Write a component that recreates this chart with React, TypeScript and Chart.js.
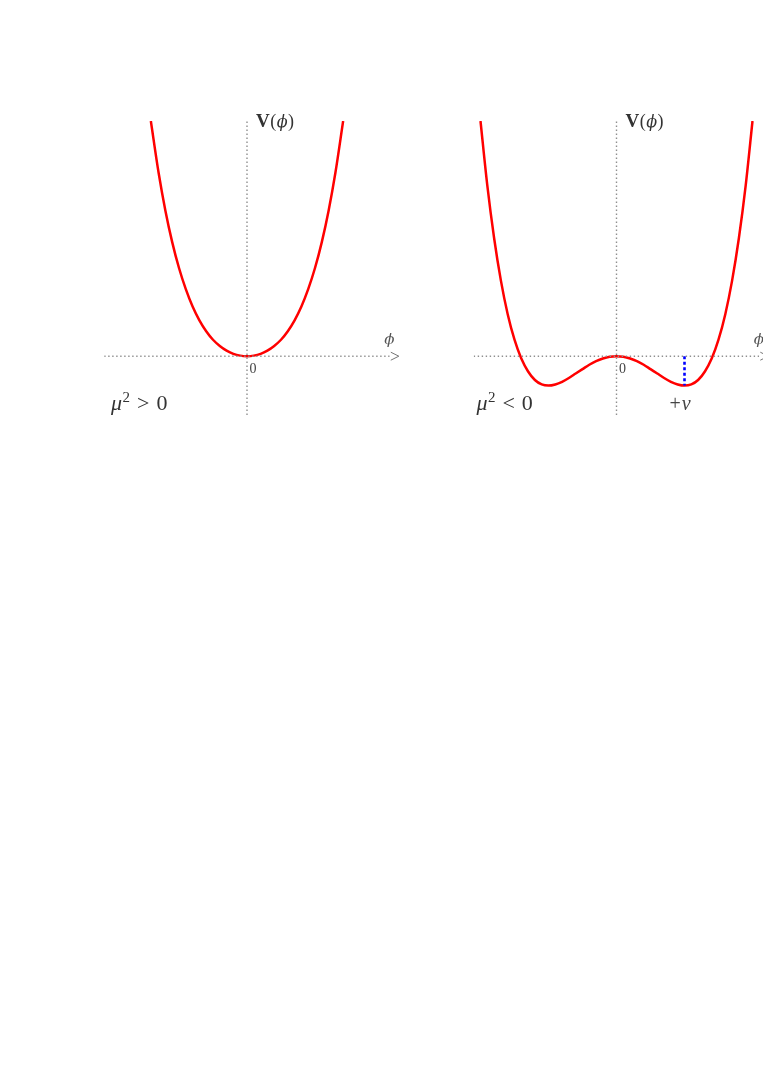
import React, { useEffect, useRef } from "react";
import { Chart, registerables } from "chart.js";

Chart.register(...registerables);

// φ samples and potential values V(φ)
const PHI_LEFT = [-1.414, -1.3, -1.2, -1.1, -1.0, -0.9, -0.8, -0.7, -0.6, -0.5, -0.4, -0.3, -0.2, -0.1, 0,
  0.1, 0.2, 0.3, 0.4, 0.5, 0.6, 0.7, 0.8, 0.9, 1.0, 1.1, 1.2, 1.3, 1.414];
const V_LEFT = [8.0, 6.24, 4.95, 3.88, 3.0, 2.28, 1.69, 1.22, 0.85, 0.56, 0.35, 0.19, 0.08, 0.02, 0,
  0.02, 0.08, 0.19, 0.35, 0.56, 0.85, 1.22, 1.69, 2.28, 3.0, 3.88, 4.95, 6.24, 8.0];

const PHI_RIGHT = [-2.0, -1.9, -1.8, -1.7, -1.6, -1.5, -1.4, -1.3, -1.2, -1.1, -1.0, -0.9, -0.8, -0.7, -0.6,
  -0.5, -0.4, -0.3, -0.2, -0.1, 0, 0.1, 0.2, 0.3, 0.4, 0.5, 0.6, 0.7, 0.8, 0.9, 1.0, 1.1, 1.2, 1.3, 1.4,
  1.5, 1.6, 1.7, 1.8, 1.9, 2.0];
const V_RIGHT = [8.0, 5.81, 4.02, 2.57, 1.43, 0.56, -0.08, -0.52, -0.81, -0.96, -1.0, -0.96, -0.87, -0.74, -0.59,
  -0.44, -0.29, -0.17, -0.08, -0.02, 0, -0.02, -0.08, -0.17, -0.29, -0.44, -0.59, -0.74, -0.87, -0.96, -1.0,
  -0.96, -0.81, -0.52, -0.08, 0.56, 1.43, 2.57, 4.02, 5.81, 8.0];

// axes extents
const AXIS_PHI = [-2.1, 2.1];
const AXIS_V = [-2, 8];

// vacuum expectation value marker (φ = +v)
const VEV_PHI = [1, 1];
const VEV_V = [0, -1];

// text
const ORIGIN_LABEL = "0";
const PHI_SYMBOL = "ϕ";
const COND_LEFT = ["μ", "2", ">", "0"];
const COND_RIGHT = ["μ", "2", "<", "0"];
const VEV_LABEL = ["+", "v"];

const SERIF = '"Liberation Serif", "DejaVu Serif", serif';
const PHI_FONT = '"DejaVu Serif", serif';

function makeLabelsPlugin(cond: string[], condPhi: number, showVev: boolean) {
  return {
    id: "physLabels",
    afterDatasetsDraw(chart: any) {
      const ctx = chart.ctx as CanvasRenderingContext2D;
      const xs = chart.scales.x;
      const ys = chart.scales.y;
      const x0 = xs.getPixelForValue(0);
      const y0 = ys.getPixelForValue(0);
      const xEnd = xs.getPixelForValue(AXIS_PHI[1]);
      const yTop = ys.getPixelForValue(AXIS_V[1]);
      ctx.save();

      // V(φ)
      ctx.fillStyle = "#333";
      ctx.textAlign = "left";
      ctx.textBaseline = "alphabetic";
      let x = x0 + 9;
      const yb = yTop + 6;
      ctx.font = `bold 19px ${SERIF}`;
      ctx.fillText("V", x, yb);
      x += ctx.measureText("V").width + 0.5;
      ctx.font = `18px ${SERIF}`;
      ctx.fillText("(", x, yb);
      x += ctx.measureText("(").width + 0.5;
      ctx.font = `italic 16px ${PHI_FONT}`;
      ctx.fillText(PHI_SYMBOL, x, yb);
      x += ctx.measureText(PHI_SYMBOL).width + 0.5;
      ctx.font = `18px ${SERIF}`;
      ctx.fillText(")", x, yb);

      // φ axis label
      ctx.fillStyle = "#555";
      ctx.textAlign = "center";
      ctx.textBaseline = "middle";
      ctx.font = `italic 15px ${PHI_FONT}`;
      ctx.fillText(PHI_SYMBOL, xEnd - 0.5, y0 - 16);

      // arrow head
      ctx.strokeStyle = "#666";
      ctx.lineWidth = 0.9;
      ctx.beginPath();
      ctx.moveTo(xEnd + 1, y0 - 4);
      ctx.lineTo(xEnd + 9, y0);
      ctx.lineTo(xEnd + 1, y0 + 4);
      ctx.stroke();

      // origin label
      ctx.fillStyle = "#444";
      ctx.textAlign = "left";
      ctx.font = `14px ${SERIF}`;
      ctx.fillText(ORIGIN_LABEL, x0 + 2.5, y0 + 13);

      // condition μ² >/< 0
      ctx.fillStyle = "#333";
      ctx.textBaseline = "alphabetic";
      const cb = ys.getPixelForValue(-1.82);
      let cx = xs.getPixelForValue(condPhi);
      ctx.font = `italic 22px ${SERIF}`;
      ctx.fillText(cond[0], cx, cb);
      cx += ctx.measureText(cond[0]).width + 0.5;
      ctx.font = `15px ${SERIF}`;
      ctx.fillText(cond[1], cx, cb - 8);
      cx += ctx.measureText(cond[1]).width + 7;
      ctx.font = `22px ${SERIF}`;
      ctx.fillText(cond[2], cx, cb);
      cx += ctx.measureText(cond[2]).width + 7;
      ctx.fillText(cond[3], cx, cb);

      // +v label
      if (showVev) {
        ctx.fillStyle = "#444";
        let vx = xs.getPixelForValue(VEV_PHI[0]) - 15;
        ctx.font = `20px ${SERIF}`;
        ctx.fillText(VEV_LABEL[0], vx, cb);
        vx += ctx.measureText(VEV_LABEL[0]).width + 1;
        ctx.font = `italic 20px ${SERIF}`;
        ctx.fillText(VEV_LABEL[1], vx, cb);
      }
      ctx.restore();
    },
  };
}

type PanelProps = {
  phi: number[];
  v: number[];
  showVev: boolean;
  cond: string[];
  condPhi: number;
  left: number;
  width: number;
  padLeft: number;
  padRight: number;
};

function Panel({ phi, v, showVev, cond, condPhi, left, width, padLeft, padRight }: PanelProps) {
  const ref = useRef<HTMLCanvasElement | null>(null);
  useEffect(() => {
    if (!ref.current) return;
    const dotted = {
      borderColor: "#8f8f8f",
      borderWidth: 1.4,
      borderDash: [1.4, 2.6],
      pointRadius: 0,
      fill: false,
    };
    const datasets: any[] = [
      {
        ...dotted,
        data: AXIS_PHI.map((p) => ({ x: p, y: 0 })),
      },
      {
        ...dotted,
        data: AXIS_V.map((val) => ({ x: 0, y: val })),
      },
    ];
    if (showVev) {
      datasets.push({
        data: VEV_PHI.map((p, i) => ({ x: p, y: VEV_V[i] })),
        borderColor: "rgb(0,0,255)",
        borderWidth: 2.6,
        borderDash: [3, 2.5],
        pointRadius: 0,
        fill: false,
      });
    }
    datasets.push({
      data: phi.map((p, i) => ({ x: p, y: v[i] })),
      borderColor: "rgb(255,0,0)",
      borderWidth: 2.5,
      pointRadius: 0,
      fill: false,
      cubicInterpolationMode: "monotone",
    });
    const chart = new Chart(ref.current, {
      type: "line",
      data: { datasets },
      options: {
        animation: false,
        responsive: false,
        events: [],
        layout: { padding: { left: padLeft, right: padRight, top: 31, bottom: 15 } },
        plugins: { legend: { display: false }, tooltip: { enabled: false } },
        scales: {
          x: { type: "linear", min: AXIS_PHI[0], max: AXIS_PHI[1], display: false },
          y: { type: "linear", min: AXIS_V[0], max: AXIS_V[1], display: false },
        },
      },
      plugins: [makeLabelsPlugin(cond, condPhi, showVev)],
    });
    return () => chart.destroy();
  }, []);
  return (
    <canvas
      ref={ref}
      width={width}
      height={340}
      style={{ position: "absolute", left, top: 90, width, height: 340 }}
    />
  );
}

export default function App() {
  return (
    <div
      style={{
        position: "absolute",
        left: 0,
        top: 0,
        width: 763,
        height: 1000,
        overflow: "hidden",
        background: "#fff",
      }}
    >
      <Panel
        phi={PHI_LEFT}
        v={V_LEFT}
        showVev={false}
        cond={COND_LEFT}
        condPhi={-2.0}
        left={80}
        width={340}
        padLeft={24.2}
        padRight={30.2}
      />
      <Panel
        phi={PHI_RIGHT}
        v={V_RIGHT}
        showVev={true}
        cond={COND_RIGHT}
        condPhi={-2.06}
        left={450}
        width={313}
        padLeft={23.7}
        padRight={3.7}
      />
    </div>
  );
}
